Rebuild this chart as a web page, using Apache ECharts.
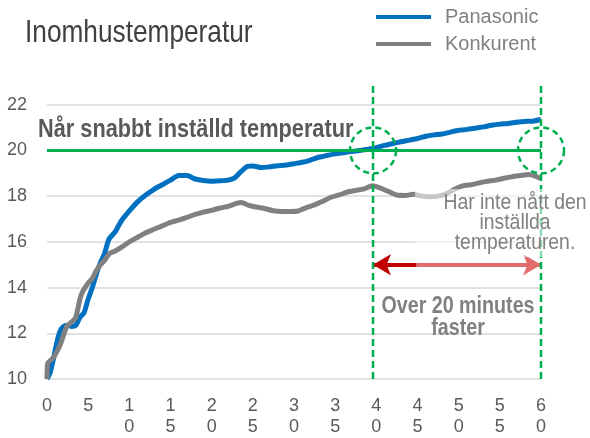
<!DOCTYPE html>
<html>
<head>
<meta charset="utf-8">
<script src="https://cdn.jsdelivr.net/npm/echarts@6/dist/echarts.min.js"></script>
<style>
  html, body { margin: 0; padding: 0; background: #fff; }
  #main { width: 590px; height: 438px; }
</style>
</head>
<body>
<div id="main"></div>
<script>
// minuter
var panasonicTime = [0, 0.4, 0.8, 1.2, 1.6, 2, 2.5, 3, 3.5, 4, 4.5, 5, 5.5, 6, 6.5, 7, 7.5, 8.3, 9, 10, 11, 12, 13, 14, 15, 16, 17, 18, 19, 20, 21, 22, 22.8, 23.5, 24.3, 25, 26, 27, 28, 29, 30, 31, 32, 33, 34, 35, 36, 37, 38, 39, 40, 41, 42, 43, 44, 45, 46, 47, 48, 49, 50, 51, 52, 53, 54, 55, 56, 57, 58, 59, 60]
var panasonicTemp = [10.0, 10.3, 10.9, 11.6, 12.1, 12.3, 12.35, 12.3, 12.35, 12.7, 12.9, 13.5, 14.0, 14.6, 15.1, 15.5, 16.1, 16.45, 16.9, 17.35, 17.75, 18.05, 18.3, 18.5, 18.7, 18.9, 18.9, 18.75, 18.68, 18.65, 18.67, 18.7, 18.8, 19.05, 19.3, 19.32, 19.25, 19.28, 19.33, 19.36, 19.42, 19.48, 19.58, 19.7, 19.78, 19.85, 19.9, 19.95, 20.0, 20.05, 20.12, 20.22, 20.3, 20.38, 20.45, 20.52, 20.62, 20.68, 20.72, 20.8, 20.88, 20.92, 20.97, 21.03, 21.1, 21.15, 21.18, 21.23, 21.27, 21.28, 21.35]

var konkurentTime = [0, 0.1, 0.7, 1.2, 1.6, 2, 2.4, 3, 3.5, 4, 4.3, 5, 5.5, 6, 6.5, 7, 7.6, 8.3, 9.2, 10, 11, 12, 13, 14, 15, 16, 17, 18, 19, 20, 21, 22, 23, 23.6, 24.5, 25.5, 26.5, 27.5, 28.5, 29.5, 30.5, 31.5, 32.5, 33.5, 34.5, 35.5, 36.5, 37.5, 38.5, 39.5, 40.5, 41.5, 42.5, 43.5, 44.5, 45.5, 46.5, 47.5, 48.5, 49.5, 50.5, 51.5, 52.5, 53.5, 54.5, 55.5, 56.5, 57.5, 58.5, 59.3, 60]
var konkurentTemp = [10.0, 10.7, 10.9, 11.2, 11.5, 11.9, 12.3, 12.5, 12.7, 13.5, 13.8, 14.2, 14.4, 14.75, 15.0, 15.2, 15.5, 15.6, 15.8, 16.0, 16.2, 16.4, 16.55, 16.7, 16.85, 16.95, 17.07, 17.2, 17.3, 17.38, 17.48, 17.55, 17.68, 17.72, 17.6, 17.52, 17.45, 17.36, 17.33, 17.33, 17.35, 17.5, 17.62, 17.78, 17.95, 18.05, 18.18, 18.25, 18.32, 18.45, 18.35, 18.2, 18.05, 18.03, 18.08, 18.0, 17.97, 18.0, 18.1, 18.3, 18.45, 18.5, 18.58, 18.65, 18.7, 18.78, 18.85, 18.9, 18.95, 18.88, 18.77]

var targetTemp = 20
var panasonicReached = 39.6
var endTime = 60
var arrowTemp = 15
var arrowSplit = 44.9

var font = '"Liberation Sans", Arial, sans-serif'

function pairs(xs, ys) {
  return xs.map(function (x, i) { return [x, ys[i]] })
}

var myChart = echarts.init(document.getElementById('main'))

var option = {
  animation: false,
  legend: {
    orient: 'vertical',
    left: 376,
    top: 7,
    padding: 0,
    itemGap: 7,
    itemWidth: 55,
    itemHeight: 4,
    icon: 'rect',
    textStyle: { fontFamily: font, fontSize: 20, color: '#808080', padding: [0, 0, 0, 9] },
    data: ['Panasonic', 'Konkurent']
  },
  grid: { left: 47, right: 49, top: 104.7, bottom: 57.3 },
  xAxis: {
    type: 'value',
    min: 0,
    max: 60,
    interval: 5,
    axisLine: { show: false },
    axisTick: { show: false },
    splitLine: { show: false },
    axisLabel: {
      margin: 17,
      fontFamily: font,
      fontSize: 18,
      lineHeight: 21,
      color: '#595959',
      formatter: function (v) { return String(v).split('').join('\n') }
    }
  },
  yAxis: {
    type: 'value',
    min: 10,
    max: 22,
    interval: 2,
    axisLine: { show: false },
    axisTick: { show: false },
    splitLine: { lineStyle: { color: '#d9d9d9', width: 1.5 } },
    axisLabel: { margin: 20, fontFamily: font, fontSize: 18, color: '#595959' }
  },
  series: [
    {
      name: 'Panasonic',
      type: 'line',
      showSymbol: false,
      smooth: 0.2,
      color: '#0070c0',
      lineStyle: { width: 5, color: '#0070c0' },
      data: pairs(panasonicTime, panasonicTemp)
    },
    {
      name: 'Konkurent',
      type: 'line',
      showSymbol: false,
      smooth: 0.2,
      color: '#808080',
      lineStyle: { width: 5, color: '#808080' },
      data: pairs(konkurentTime, konkurentTemp),
      markLine: {
        silent: true,
        symbol: ['none', 'none'],
        label: { show: false },
        lineStyle: { color: '#00b050', width: 3, type: 'solid' },
        data: [
          [{ coord: [0, targetTemp] }, { coord: [endTime, targetTemp] }],
          [{ coord: [panasonicReached, arrowTemp], symbol: 'arrow', symbolSize: [16, 18], lineStyle: { color: '#c00000', width: 4 } },
           { coord: [arrowSplit, arrowTemp], symbol: 'none' }],
          [{ coord: [arrowSplit, arrowTemp], symbol: 'none', lineStyle: { color: '#e06c6c', width: 4 } },
           { coord: [endTime, arrowTemp], symbol: 'arrow', symbolSize: [16, 18] }]
        ]
      },
      markPoint: {
        silent: true,
        symbol: 'circle',
        symbolSize: 46,
        label: { show: false },
        itemStyle: { color: 'rgba(0,0,0,0)', borderColor: '#00b050', borderWidth: 2.5, borderType: [6, 4] },
        data: [
          { coord: [panasonicReached, targetTemp] },
          { coord: [endTime, targetTemp] }
        ]
      }
    }
  ]
}

myChart.setOption(option)

// streckade lodlinjer (går upp ovanför diagramytan) + texter
var p1 = myChart.convertToPixel({ gridIndex: 0 }, [panasonicReached, 10])
var p2 = myChart.convertToPixel({ gridIndex: 0 }, [endTime, 10])

function vline(x, yBottom) {
  return {
    type: 'line',
    z: 50,
    silent: true,
    shape: { x1: x, y1: yBottom, x2: x, y2: 85 },
    style: { stroke: '#00b050', lineWidth: 2.5, lineDash: [7, 4] }
  }
}

myChart.setOption({
  graphic: [
    {
      type: 'text',
      x: 25,
      y: 33,
      scaleX: 0.82,
      z: 100,
      style: {
        text: 'Inomhustemperatur',
        font: '32px ' + font,
        fill: '#404040',
        verticalAlign: 'middle'
      }
    },
    vline(p1[0], p1[1]),
    vline(p2[0], p2[1]),
    {
      type: 'text',
      x: 38,
      y: 130,
      scaleX: 0.87,
      z: 100,
      style: {
        text: 'Når snabbt inställd temperatur',
        font: 'bold 25px ' + font,
        fill: '#595959',
        verticalAlign: 'middle'
      }
    },
    {
      type: 'rect',
      z: 99,
      silent: true,
      shape: { x: 415, y: 189, width: 175, height: 68 },
      style: { fill: 'rgba(255,255,255,0.55)' }
    },
    {
      type: 'text',
      x: 515,
      y: 223,
      scaleX: 0.88,
      z: 100,
      style: {
        text: 'Har inte nått den\ninställda\ntemperaturen.',
        font: '22px ' + font,
        lineHeight: 20,
        fill: '#808080',
        align: 'center',
        verticalAlign: 'middle'
      }
    },
    {
      type: 'text',
      x: 458,
      y: 318,
      scaleX: 0.855,
      z: 100,
      style: {
        text: 'Over 20 minutes\nfaster',
        font: 'bold 23px ' + font,
        lineHeight: 22,
        fill: '#808080',
        align: 'center',
        verticalAlign: 'middle'
      }
    }
  ]
})
</script>
</body>
</html>
